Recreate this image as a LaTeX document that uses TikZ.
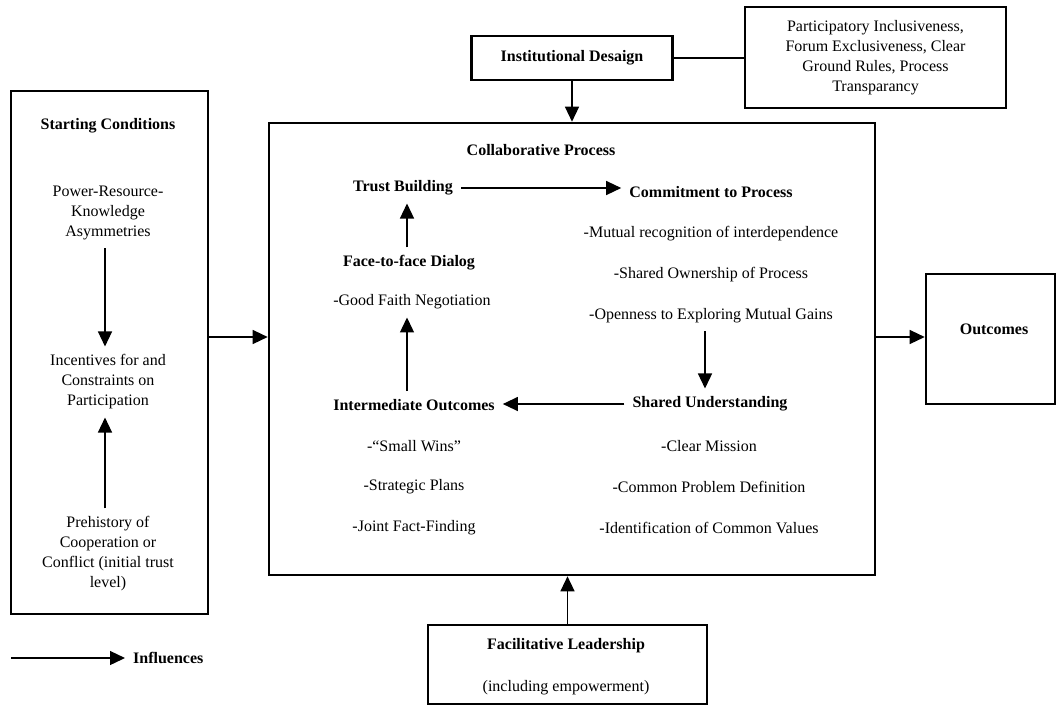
\documentclass[tikz,border=0pt]{standalone}
\usepackage{fontspec}
\setmainfont{Liberation Serif}
\usetikzlibrary{arrows.meta,positioning}

\tikzset{
  frame/.style={draw, line width=2.6pt, inner sep=0pt},
  txt/.style={font=\fontsize{16}{20}\selectfont, align=center, inner sep=8pt},
  hdr/.style={font=\fontsize{16}{20}\selectfont\bfseries, align=center, inner sep=8pt},
  flow/.style={-{Triangle[length=15pt,width=14pt]}, line width=1.3pt},
  link/.style={line width=1.3pt}
}

\begin{document}
\begin{tikzpicture}[x=1pt, y=-1pt]
  \useasboundingbox (0,0) rectangle (1056,705);

  % Starting conditions
  \node[frame, minimum width=197pt, minimum height=523pt] (start) at (109.5,352.5) {};
  \node[hdr] (sc) at (108,126) {Starting Conditions};
  \node[txt] (power) at (108,213) {Power-Resource-\\Knowledge\\Asymmetries};
  \node[txt] (incent) at (108,382) {Incentives for and\\Constraints on\\Participation};
  \node[txt] (prehist) at (108,554) {Prehistory of\\Cooperation or\\Conflict (initial trust\\level)};
  \draw[flow] (power.south -| 105,0) -- (incent.north -| 105,0);
  \draw[flow] (prehist.north -| 105,0) -- (incent.south -| 105,0);

  % Institutional design
  \node[frame, font=\fontsize{16}{20}\selectfont\bfseries, minimum width=201pt, minimum height=44pt] (inst) at (572,58) {Institutional Desaign};
  \node[frame, txt, inner sep=0pt, minimum width=261pt, minimum height=101pt] (rules) at (875.5,57.5)
    {Participatory Inclusiveness,\\Forum Exclusiveness, Clear\\Ground Rules, Process\\Transparancy};
  \draw[link] (inst.east) -- (inst.east -| rules.west);

  % Collaborative process
  \node[frame, minimum width=606pt, minimum height=452pt] (collab) at (572,349) {};
  \node[hdr] (cp) at (541,150) {Collaborative Process};
  \draw[flow] (inst.south) -- (inst.south |- collab.north);

  % Left column of the cycle
  \node[hdr] (trust) at (403,188) {Trust Building};
  \node[hdr] (face) at (409,263) {Face-to-face Dialog};
  \node[txt] (goodf) at (412,302) {-Good Faith Negotiation};
  \node[hdr] (interm) at (414,405) {Intermediate Outcomes};
  \foreach \name/\y/\item in {wins/446/{-``Small Wins''}, plans/487/{-Strategic Plans}, facts/528/{-Joint Fact-Finding}} {
    \node[txt] (\name) at (414,\y) {\item};
  }

  % Right column of the cycle
  \node[hdr] (commit) at (711,192) {Commitment to Process};
  \node[txt] (mutual) at (711,234) {-Mutual recognition of interdependence};
  \node[txt] (owner) at (711,275) {-Shared Ownership of Process};
  \node[txt] (open) at (711,316) {-Openness to Exploring Mutual Gains};
  \node[hdr] (shared) at (710,404) {Shared Understanding};
  \foreach \name/\y/\item in {mission/446/{-Clear Mission}, problem/487/{-Common Problem Definition}, values/528/{-Identification of Common Values}} {
    \node[txt] (\name) at (709,\y) {\item};
  }

  % Cycle arrows
  \draw[flow] (trust.east) -- (trust.east -| commit.west);
  \draw[flow] (open.south -| 705,0) -- (shared.north -| 705,0);
  \draw[flow] (shared.west) -- (shared.west -| interm.east);
  \draw[flow] (interm.north -| 407,0) -- (goodf.south -| 407,0);
  \draw[flow] (face.north -| 407,0) -- (trust.south -| 407,0);

  % Outcomes
  \node[frame, minimum width=129pt, minimum height=130pt] (outc) at (990.5,339) {};
  \node[hdr] (otxt) at (994,329) {Outcomes};
  \coordinate (mid) at (0,337);
  \draw[flow] (start.east |- mid) -- (collab.west |- mid);
  \draw[flow] (collab.east |- mid) -- (outc.west |- mid);

  % Facilitative leadership
  \node[frame, minimum width=279pt, minimum height=79pt] (facil) at (567.5,664.5) {};
  \node[hdr] (fl) at (566,646) {Facilitative Leadership};
  \node[txt] (emp) at (566,688) {(including empowerment)};
  \draw[flow] (facil.north) -- (facil.north |- collab.south);

  % Legend
  \coordinate (leg) at (11,658);
  \node[hdr, anchor=west] (infl) at (125,658) {Influences};
  \draw[flow] (leg) -- (infl.west);
\end{tikzpicture}
\end{document}
